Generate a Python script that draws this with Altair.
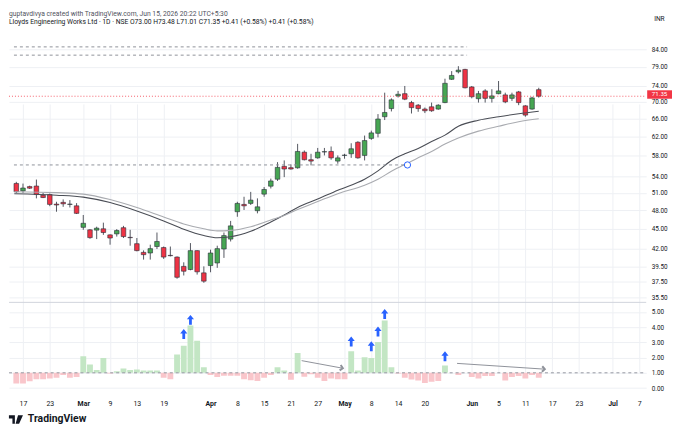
import altair as alt
import pandas as pd

# ---------------- data ----------------
opens = [52.7, 51.36, 52.13, 52.23, 50.59, 50.71, 49.05, 49.35, 49.0, 48.76,
         45.25, 44.86, 44.81, 45.02, 44.08, 44.23, 45.19, 43.7, 42.75, 41.48,
         41.39, 42.33, 42.18, 41.05, 40.81, 39.51, 39.08, 41.73, 38.63, 39.62,
         39.98, 41.97, 43.44, 47.77, 49.0, 49.17, 47.94, 50.78, 52.2, 53.48,
         55.93, 55.67, 55.64, 58.75, 57.23, 57.6, 58.8, 58.9, 56.96, 58.1,
         58.42, 60.81, 58.09, 61.63, 62.73, 66.45, 68.36, 71.43, 71.99, 69.8,
         69.17, 68.24, 68.78, 68.24, 69.8, 75.68, 77.67, 78.32, 73.69, 70.74,
         72.68, 70.83, 71.99, 71.68, 70.83, 72.43, 69.01, 68.24, 73.0]
highs = [53.0, 52.68, 52.3, 53.42, 51.0, 50.89, 49.45, 49.86, 49.74, 49.22,
         47.23, 44.97, 45.35, 45.99, 44.15, 44.97, 45.48, 44.86, 43.6, 41.77,
         42.6, 44.44, 42.33, 42.33, 40.9, 40.07, 42.84, 41.77, 39.51, 41.87,
         42.45, 44.44, 46.27, 49.45, 50.32, 51.18, 50.04, 52.05, 53.6, 56.75,
         57.09, 56.31, 60.47, 59.1, 58.42, 59.62, 59.62, 59.92, 58.09, 58.42,
         60.6, 61.03, 62.24, 63.32, 67.06, 72.24, 70.83, 72.68, 73.94, 70.21,
         69.45, 68.6, 69.8, 69.4, 75.83, 77.86, 79.21, 78.48, 73.94, 72.68,
         73.11, 73.11, 75.23, 72.24, 72.24, 72.68, 69.17, 71.23, 73.48]
lows = [51.0, 51.0, 51.7, 50.04, 50.09, 48.7, 47.77, 48.59, 48.48, 47.39,
        44.86, 43.49, 43.44, 44.08, 42.6, 43.82, 43.6, 42.45, 41.63, 40.45,
        40.45, 41.97, 40.55, 40.9, 37.85, 38.28, 38.98, 38.4, 37.32, 38.71,
        39.31, 40.69, 43.08, 46.94, 48.06, 48.9, 47.5, 50.32, 51.79, 53.16,
        53.87, 55.3, 55.48, 57.09, 56.12, 57.43, 58.09, 57.23, 56.44, 57.43,
        57.6, 57.43, 57.09, 61.32, 61.85, 65.69, 67.68, 71.03, 70.39, 67.2,
        67.6, 67.3, 67.6, 68.08, 69.65, 75.5, 77.24, 73.33, 70.83, 69.8,
        69.8, 69.8, 71.84, 69.65, 70.21, 69.17, 66.45, 68.08, 71.01]
closes = [51.2, 51.87, 51.84, 50.71, 50.18, 49.0, 48.9, 49.1, 49.05, 47.5,
          45.89, 43.66, 45.12, 44.44, 43.6, 44.75, 43.82, 43.65, 41.73, 41.15,
          42.02, 43.08, 40.81, 41.0, 38.04, 38.85, 41.73, 38.77, 37.53, 41.39,
          42.02, 43.97, 45.48, 49.17, 48.76, 49.74, 48.59, 51.61, 53.16, 55.73,
          55.41, 55.41, 58.9, 57.23, 56.96, 58.75, 58.85, 57.6, 57.6, 58.15,
          59.45, 57.6, 61.17, 62.82, 65.92, 67.44, 70.46, 71.84, 70.63, 68.58,
          68.36, 67.84, 67.84, 69.17, 74.63, 76.7, 78.13, 73.48, 71.23, 71.99,
          70.83, 71.43, 72.68, 69.97, 71.68, 69.8, 66.83, 70.94, 71.35]

rel_volume = [0.30, 0.30, 0.44, 0.58, 0.58, 0.63, 0.68, 0.86, 0.68, 0.72,
              2.09, 1.55, 1.18, 1.97, 0.95, 1.11, 1.28, 1.19, 1.21, 1.15,
              1.15, 1.15, 0.68, 0.58, 2.20, 2.78, 4.11, 3.11, 1.37, 0.86,
              0.72, 0.81, 0.80, 0.81, 0.58, 0.51, 0.46, 0.68, 0.86, 1.37,
              1.15, 0.54, 2.30, 0.74, 0.91, 0.68, 0.46, 0.63, 0.58, 0.58,
              2.41, 1.15, 2.02, 1.97, 3.02, 4.43, 1.37, 0.95, 0.68, 0.56,
              0.50, 0.33, 0.42, 0.46, 1.48, 1.00, 0.86, 1.00, 0.72, 0.63,
              0.79, 0.79, 1.00, 0.50, 0.72, 0.79, 0.63, 0.85, 0.68]

ma_idx = [-0.3, 6, 10, 14, 18, 22, 25, 28, 30, 32, 35, 38, 40, 42, 45, 48, 52, 54,
          56, 58, 60, 62, 64, 66, 69, 72, 75, 78]
ma_fast = [50.84, 50.59, 50.25, 49.31, 47.89, 46.27, 44.94, 43.97, 43.64, 43.79,
           44.63, 46.1, 47.23, 48.48, 49.92, 51.48, 53.48, 55.06, 57.09, 58.42,
           59.51, 60.97, 62.34, 64.29, 65.65, 66.45, 67.13, 67.72]
ma_slow = [51.2, 51.04, 50.78, 49.83, 48.47, 46.91, 45.79, 45.02, 44.7, 44.78,
           45.35, 46.43, 47.15, 48.14, 49.49, 50.86, 52.38, 53.48, 54.97, 56.31,
           57.6, 58.9, 60.43, 61.72, 63.21, 64.29, 65.31, 65.99]

tick_idx = [1, 5, 10, 14, 18, 22, 29, 33, 37, 41, 45, 49, 53, 57, 61, 68, 72, 76, 80, 84, 89, 93]
tick_lab = ["17", "23", "Mar", "9", "13", "19", "Apr", "8", "15", "21", "27", "May",
            "8", "14", "20", "Jun", "5", "11", "17", "23", "Jul", "7"]
month_idx = [10, 29, 49, 68, 89]
price_ticks = [35.5, 37.5, 39.5, 42, 45, 48, 51, 54, 58, 62, 66, 70, 74, 79, 84]
ind_ticks = [0, 1, 2, 3, 4, 5]

level_start = [-0.35, -0.35, -0.35]
level_end = [67.3, 67.3, 58.4]
level_price = [84.7, 82.3, 56.2]
last_close = 71.35

arrow_idx = [25, 26, 50, 53, 54, 55, 64]
arrow_val = [3.55, 4.48, 3.06, 2.74, 3.72, 4.87, 2.09]

trend_idx = [42.6, 48.75, 65.8, 78.9]
trend_val = [1.8, 1.3, 1.62, 1.24]
trend_seg = ["a", "a", "b", "b"]

header1 = "guptavdivya created with TradingView.com, Jun 15, 2026 20:22 UTC+5:30"
header2 = ("Lloyds Engineering Works Ltd \u00b7 1D \u00b7 NSE   O73.00  H73.48  L71.01  "
           "C71.35  +0.41 (+0.58%)  +0.41 (+0.58%)")

# ---------------- frames ----------------
n = len(opens)
candles = pd.DataFrame({"i": list(range(n)), "o": opens, "h": highs, "l": lows, "c": closes})
candles["dir"] = ["up" if c >= o else "down" for o, c in zip(opens, closes)]
vol = pd.DataFrame({"i": list(range(n)), "v": rel_volume})
ma = pd.DataFrame({"i": ma_idx * 2, "p": ma_fast + ma_slow,
                   "s": ["fast"] * len(ma_idx) + ["slow"] * len(ma_idx)})
levels = pd.DataFrame({"i": level_start, "i2": level_end, "p": level_price})
arrows = pd.DataFrame({"i": arrow_idx, "v": arrow_val})
trend = pd.DataFrame({"i": trend_idx, "v": trend_val, "seg": trend_seg})

# ---------------- scales / axes ----------------
W, H = 642, 389
FONT = "Roboto"
GRID = "#eef0f4"
TXT = "#131722"

xs = alt.Scale(domain=[-0.35, 93.3], nice=False, zero=False)
label_expr = ("[" + ",".join("'%s'" % t for t in tick_lab) + "][indexof(["
              + ",".join(str(t) for t in tick_idx) + "], datum.value)]")
xaxis = alt.Axis(values=tick_idx, labelExpr=label_expr, title=None, grid=True,
                 gridColor=GRID, domain=False, ticks=False, labelFontSize=7,
                 labelColor=TXT, labelPadding=4, labelOverlap=False, labelFlush=False,
                 labelFont=FONT,
                 labelFontWeight={"condition": {"test": "indexof([" + ",".join(str(m) for m in month_idx) + "], datum.value) >= 0",
                                                "value": "bold"}, "value": "normal"})

ps = alt.Scale(type="log", domain=[35, 89], range=[293.89, 23.23], nice=False, zero=False)
paxis = alt.Axis(values=price_ticks, format=".2f", orient="right", title=None, grid=True,
                 gridColor=GRID, domain=False, ticks=False, labelFontSize=6.4,
                 labelColor=TXT, labelPadding=5, labelOverlap=False, labelFlush=False,
                 labelFont=FONT)

vs = alt.Scale(domain=[-0.5, 5.5], range=[388.97, 297.0], nice=False, zero=False)
vaxis = alt.Axis(values=ind_ticks, format=".2f", orient="right", title=None, grid=True,
                 gridColor=GRID, domain=False, ticks=False, labelFontSize=6.4,
                 labelColor=TXT, labelPadding=5, labelOverlap=False, labelFlush=False,
                 labelFont=FONT)


def X(f):
    return alt.X(f, type="quantitative", scale=xs, axis=xaxis)


def PY(f):
    return alt.Y(f, type="quantitative", scale=ps, axis=paxis)


def VY(f):
    return alt.Y(f, type="quantitative", scale=vs, axis=vaxis)


# ---------------- price pane ----------------
wicks = alt.Chart(candles).mark_rule(color="#2a2e39", strokeWidth=0.8).encode(
    x=X("i"), y=PY("l"), y2="h")
bodies = alt.Chart(candles).mark_bar(width=4.6, stroke="#2a2e39", strokeWidth=0.6).encode(
    x=X("i"), y=PY("o"), y2="c",
    color=alt.condition("datum.c >= datum.o", alt.value("#46a653"), alt.value("#ee3344")))
ma_lines = alt.Chart(ma).mark_line(interpolate="monotone", strokeWidth=1.1).encode(
    x=X("i"), y=PY("p"),
    stroke=alt.condition("datum.s == 'fast'", alt.value("#4a4d55"), alt.value("#a9abb0")),
    detail="s:N")
level_lines = alt.Chart(levels).mark_rule(strokeDash=[3, 3], color="#8f929a", strokeWidth=1).encode(
    x=X("i"), x2="i2", y=PY("p"))
circle = alt.Chart(levels.iloc[[2]]).mark_point(shape="circle", size=40, fill="white",
                                               stroke="#2962ff", strokeWidth=1, opacity=1,
                                               filled=False).encode(x=X("i2"), y=PY("p"))
close_df = pd.DataFrame({"p": [last_close], "t": ["%.2f" % last_close]})
close_line = alt.Chart(close_df).mark_rule(color="#f23645", strokeDash=[1, 2], strokeWidth=1,
                                           opacity=0.8).encode(
    x=alt.value(0), x2=alt.value(W), y=PY("p"))
close_box = alt.Chart(close_df).mark_rect(color="#f23645", yOffset=-6, y2Offset=2.5).encode(
    x=alt.value(W + 1), x2=alt.value(W + 26), y=PY("p"), y2="p")
close_txt = alt.Chart(close_df).mark_text(color="white", fontSize=6.2, font=FONT,
                                          align="center", baseline="middle", dy=-1.8).encode(
    x=alt.value(W + 13.5), y=PY("p"), text="t:N")

head_df = pd.DataFrame({"a": [header1], "b": [header2], "c": ["INR"]})
head1 = alt.Chart(head_df).mark_text(align="left", baseline="top", fontSize=6.8, font=FONT,
                                     color="#50535e").encode(
    x=alt.value(0), y=alt.value(1), text="a:N")
head2 = alt.Chart(head_df).mark_text(align="left", baseline="middle", fontSize=6.8, font=FONT,
                                     color=TXT).encode(
    x=alt.value(0), y=alt.value(13), text="b:N")
inr = alt.Chart(head_df).mark_text(align="left", baseline="middle", fontSize=6.6, font=FONT,
                                   color=TXT).encode(
    x=alt.value(W + 8), y=alt.value(10), text="c:N")

upper = alt.layer(wicks, bodies, ma_lines, level_lines, circle, close_line, close_box,
                  close_txt, head1, head2, inr)

# ---------------- indicator pane ----------------
sep = alt.Chart(head_df).mark_rule(color="#d1d4dc", strokeWidth=1).encode(
    x=alt.value(0), x2=alt.value(W), y=alt.value(295))
bars = alt.Chart(vol).mark_bar(width=5.9, clip=True).encode(
    x=X("i"), y=VY("v"), y2=alt.datum(1),
    color=alt.condition("datum.v >= 1", alt.value("#c3e6c4"), alt.value("#f9c6cb")))
one_df = pd.DataFrame({"v": [1.0]})
one_line = alt.Chart(one_df).mark_rule(strokeDash=[3, 3], color="#9598a1", strokeWidth=1).encode(
    x=alt.value(0), x2=alt.value(W), y=VY("v"))
trend_lines = alt.Chart(trend).mark_line(color="#8f929a", strokeWidth=1).encode(
    x=X("i"), y=VY("v"), detail="seg:N")
head_a = alt.Chart(trend.iloc[[1]]).mark_point(shape="M-1,-1L0,0L-1,1", size=30, filled=False,
                                              color="#8f929a", angle=11.6, opacity=1).encode(
    x=X("i"), y=VY("v"))
head_b = alt.Chart(trend.iloc[[3]]).mark_point(shape="M-1,-1L0,0L-1,1", size=30, filled=False,
                                              color="#8f929a", angle=4, opacity=1).encode(
    x=X("i"), y=VY("v"))
up_arrows = alt.Chart(arrows).mark_point(
    shape="M0,-1L0.72,-0.1L0.28,-0.1L0.28,1L-0.28,1L-0.28,-0.1L-0.72,-0.1Z",
    size=100, filled=True, color="#2962ff", opacity=1).encode(x=X("i"), y=VY("v"))

logo_df = pd.DataFrame({"t": ["TradingView"]})
logo_txt = alt.Chart(logo_df).mark_text(align="left", baseline="middle", fontSize=10.5,
                                        fontWeight="bold", font=FONT, color=TXT).encode(
    x=alt.value(19), y=alt.value(413), text="t:N")
logo_icon = alt.Chart(logo_df).mark_point(
    shape="M-1,-0.6H-0.15V0.6H-0.5V-0.15H-1Z M0.3,-0.6H1L0.45,0.6H-0.05Z",
    size=200, filled=True, color=TXT, opacity=1).encode(x=alt.value(7), y=alt.value(413))

lower = alt.layer(sep, bars, one_line, trend_lines, head_a, head_b, up_arrows, logo_txt, logo_icon)

chart = alt.layer(upper, lower).resolve_scale(y="independent").properties(
    width=W, height=H, padding=0, background="white"
).configure_view(stroke=None)

chart.save("out.html", embed_options={"renderer": "svg", "actions": False})
